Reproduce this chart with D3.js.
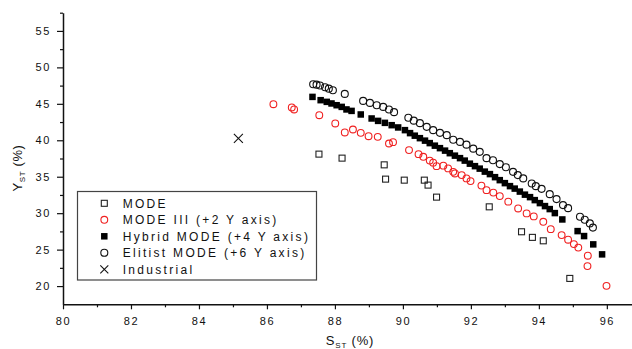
<!DOCTYPE html>
<html>
<head>
<meta charset="utf-8">
<script src="https://cdn.jsdelivr.net/npm/d3@7"></script>
<style>
  body { margin: 0; background: #fff; }
  svg { display: block; font-family: Arial, "Liberation Sans", sans-serif; }
</style>
</head>
<body>
<div id="chart"></div>
<script>
// ticks
const xTicks = [80, 82, 84, 86, 88, 90, 92, 94, 96];
const xMinor = [81, 83, 85, 87, 89, 91, 93, 95];
const yTicks = [20, 25, 30, 35, 40, 45, 50, 55];
const yMinor = [22.5, 27.5, 32.5, 37.5, 42.5, 47.5, 52.5, 57.5];

// MODE
const modeX = [87.53, 88.21, 89.45, 89.49, 90.04, 90.63, 90.74, 90.99, 92.54, 93.49, 93.81, 94.13, 94.91];
const modeY = [38.10, 37.55, 36.63, 34.67, 34.53, 34.53, 33.85, 32.20, 30.87, 27.45, 26.68, 26.21, 21.05];

// MODE III (+2 Y axis)
const mode3X = [86.19, 86.73, 86.80, 87.54, 88.01, 88.29, 88.53, 88.76, 88.99, 89.26, 89.59, 89.71,
  90.18, 90.46, 90.60, 90.79, 90.89, 90.99, 91.19, 91.33, 91.48, 91.53, 91.73, 91.87, 91.99,
  92.31, 92.46, 92.66, 92.85, 93.10, 93.39, 93.64, 93.85, 94.13, 94.35, 94.67, 94.86, 95.03,
  95.16, 95.44, 95.43, 95.99];
const mode3Y = [44.95, 44.50, 44.23, 43.44, 42.31, 41.07, 41.48, 41.02, 40.56, 40.47, 39.56, 39.74,
  38.65, 38.10, 37.73, 37.21, 36.93, 36.45, 36.52, 36.14, 35.67, 35.45, 35.22, 34.77, 34.40,
  33.78, 33.16, 32.82, 32.34, 31.58, 30.65, 29.97, 29.56, 28.82, 27.81, 26.99, 26.36, 25.76,
  25.28, 24.17, 22.74, 20.03];

// Hybrid MODE (+4 Y axis)
const hybridX = [87.34, 87.58, 87.76, 87.90, 88.05, 88.20, 88.34, 88.49, 88.76, 89.08, 89.27, 89.47,
  89.67, 89.86, 90.06, 90.21, 90.35, 90.50, 90.65, 90.79, 90.94, 91.09, 91.24, 91.38, 91.53,
  91.68, 91.82, 91.97, 92.12, 92.26, 92.41, 92.56, 92.71, 92.85, 93.00, 93.15, 93.29, 93.44,
  93.59, 93.74, 93.88, 94.03, 94.18, 94.32, 94.47, 94.69, 95.14, 95.33, 95.60, 95.86];
const hybridY = [45.95, 45.50, 45.27, 45.05, 44.81, 44.58, 44.23, 44.03, 43.54, 42.99, 42.66, 42.39,
  42.07, 41.76, 41.39, 40.98, 40.63, 40.29, 39.95, 39.61, 39.26, 38.92, 38.58, 38.23, 37.89,
  37.55, 37.21, 36.79, 36.45, 36.11, 35.70, 35.36, 34.94, 34.53, 34.12, 33.71, 33.37, 32.96,
  32.54, 32.20, 31.79, 31.38, 30.97, 30.56, 30.01, 29.14, 27.54, 26.86, 25.72, 24.35];

// Elitist MODE (+6 Y axis)
const elitistX = [87.36, 87.46, 87.56, 87.71, 87.82, 87.94, 88.29, 88.83, 89.03, 89.23, 89.42, 89.59,
  89.74, 90.16, 90.32, 90.50, 90.70, 90.89, 91.09, 91.29, 91.48, 91.68, 91.87, 92.07, 92.26,
  92.46, 92.65, 92.85, 93.03, 93.24, 93.38, 93.54, 93.79, 93.91, 94.08, 94.32, 94.52, 94.71,
  94.86, 95.21, 95.35, 95.50, 95.59];
const elitistY = [47.69, 47.63, 47.52, 47.28, 47.08, 46.87, 46.36, 45.40, 45.13, 44.81, 44.58, 44.23,
  43.86, 43.10, 42.69, 42.35, 41.84, 41.39, 41.02, 40.70, 40.08, 39.78, 39.40, 38.85, 38.41,
  37.55, 37.27, 36.73, 36.31, 35.67, 35.22, 34.77, 34.08, 33.71, 33.34, 32.61, 31.93, 31.11,
  30.69, 29.50, 29.09, 28.60, 28.02];

// Industrial
const industrialX = [85.16];
const industrialY = [40.25];

const legendLabels = ['MODE', 'MODE III (+2 Y axis)', 'Hybrid MODE (+4 Y axis)', 'Elitist MODE (+6 Y axis)', 'Industrial'];

const width = 632, height = 349;

const svg = d3.select('#chart').append('svg')
  .attr('width', width)
  .attr('height', height);

// axis runs off the right edge of the picture
const x = d3.scaleLinear().domain([80, 96.74]).range([63, 632]);
const y = d3.scaleLinear().domain([17.5, 57.5]).range([304.3, 12.7]);

const axisColor = '#111';

// x axis
const gx = svg.append('g').attr('transform', 'translate(0,304.3)');
gx.call(d3.axisBottom(x).tickValues(xTicks).tickSize(5).tickPadding(8).tickSizeOuter(0));
gx.append('g').call(d3.axisBottom(x).tickValues(xMinor).tickSize(3).tickFormat('').tickSizeOuter(0))
  .select('.domain').remove();

// y axis
const gy = svg.append('g').attr('transform', 'translate(63,0)');
gy.call(d3.axisLeft(y).tickValues(yTicks).tickSize(6).tickPadding(6).tickSizeOuter(0));
gy.append('g').call(d3.axisLeft(y).tickValues(yMinor).tickSize(3).tickFormat('').tickSizeOuter(0))
  .select('.domain').remove();

svg.selectAll('.domain').attr('stroke', axisColor).attr('stroke-width', 1.5);
svg.selectAll('.tick line').attr('stroke', axisColor).attr('stroke-width', 1.2);
svg.selectAll('.tick text')
  .attr('fill', '#111')
  .style('font-size', '11px')
  .style('letter-spacing', '1.6px');

// axis titles
const xt = svg.append('text')
  .attr('x', 350).attr('y', 345)
  .attr('text-anchor', 'middle')
  .attr('fill', '#111')
  .style('font-size', '13px')
  .style('letter-spacing', '0.8px');
xt.append('tspan').text('S');
xt.append('tspan').attr('dy', 3).style('font-size', '8px').text('ST');
xt.append('tspan').attr('dy', -3).text(' (%)');

const yt = svg.append('text')
  .attr('transform', 'translate(22,168) rotate(-90)')
  .attr('text-anchor', 'middle')
  .attr('fill', '#111')
  .style('font-size', '13px')
  .style('letter-spacing', '0.6px');
yt.append('tspan').text('Y');
yt.append('tspan').attr('dy', 3).style('font-size', '8px').text('ST');
yt.append('tspan').attr('dy', -3).text(' (%)');

// markers
const red = '#f02020';
function openSquare(g, cx, cy, s, color) {
  g.append('rect').attr('x', cx - s / 2).attr('y', cy - s / 2).attr('width', s).attr('height', s)
    .attr('fill', 'none').attr('stroke', color).attr('stroke-width', 1.1);
}
function filledSquare(g, cx, cy, s) {
  g.append('rect').attr('x', cx - s / 2).attr('y', cy - s / 2).attr('width', s).attr('height', s)
    .attr('fill', '#000');
}
function openCircle(g, cx, cy, r, color) {
  g.append('circle').attr('cx', cx).attr('cy', cy).attr('r', r)
    .attr('fill', 'none').attr('stroke', color).attr('stroke-width', 1.1);
}
function cross(g, cx, cy, s) {
  g.append('path')
    .attr('d', `M${cx - s},${cy - s}L${cx + s},${cy + s}M${cx - s},${cy + s}L${cx + s},${cy - s}`)
    .attr('stroke', '#111').attr('stroke-width', 1.1).attr('fill', 'none');
}

const plot = svg.append('g');
modeX.forEach((v, i) => openSquare(plot, x(v), y(modeY[i]), 6, '#222'));
mode3X.forEach((v, i) => openCircle(plot, x(v), y(mode3Y[i]), 3.4, red));
hybridX.forEach((v, i) => filledSquare(plot, x(v), y(hybridY[i]), 6.5));
elitistX.forEach((v, i) => openCircle(plot, x(v), y(elitistY[i]), 3.5, '#111'));
industrialX.forEach((v, i) => cross(plot, x(v), y(industrialY[i]), 4.5));

// legend
const lg = svg.append('g');
lg.append('rect')
  .attr('x', 77.5).attr('y', 191.5).attr('width', 239).attr('height', 88.5)
  .attr('fill', '#fff').attr('stroke', '#444').attr('stroke-width', 1.2);

const rowY = d3.scaleLinear().domain([0, 4]).range([203.3, 269.3]);
const symX = 104.3;
openSquare(lg, symX, rowY(0), 6, '#222');
openCircle(lg, symX, rowY(1), 3.4, red);
filledSquare(lg, symX, rowY(2), 6.5);
openCircle(lg, symX, rowY(3), 3.5, '#111');
cross(lg, symX, rowY(4), 4);

lg.selectAll('text.lbl')
  .data(legendLabels)
  .enter().append('text')
  .attr('class', 'lbl')
  .attr('x', 122.7)
  .attr('y', (d, i) => rowY(i))
  .attr('dy', '0.36em')
  .attr('fill', '#111')
  .style('font-size', '12px')
  .style('letter-spacing', '2.3px')
  .text(d => d);
</script>
</body>
</html>
